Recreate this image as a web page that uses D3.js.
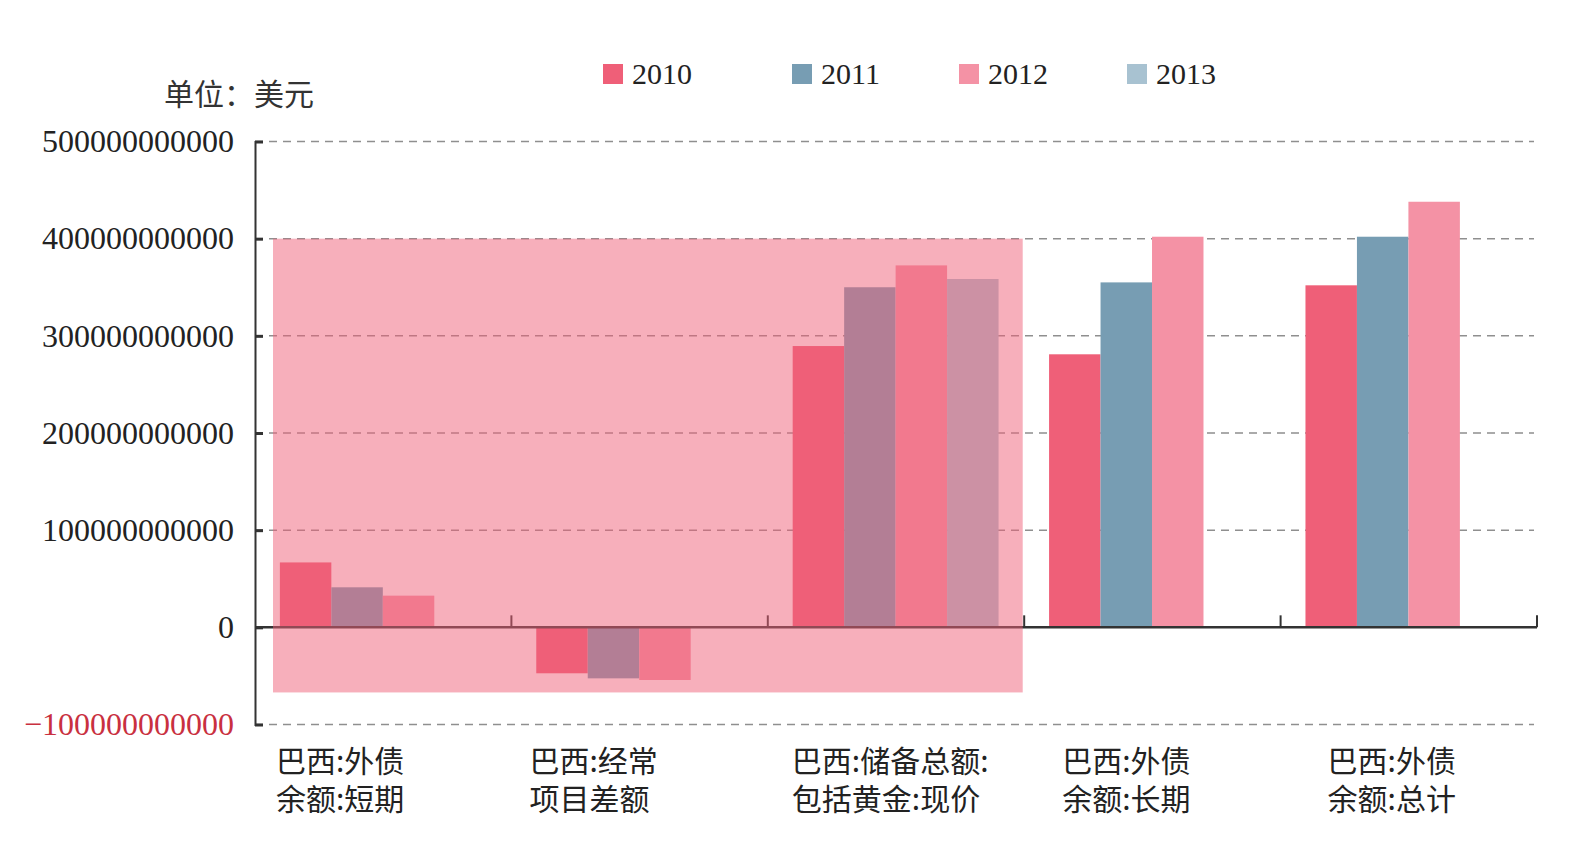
<!DOCTYPE html>
<html lang="zh">
<head>
  <meta charset="UTF-8">
  <title>巴西外债与储备</title>
  <script src="https://cdn.jsdelivr.net/npm/d3@7"></script>
  <style>
    body { margin: 0; background: #fff; }
    svg { display: block; }
  </style>
</head>
<body>
  <svg id="chart" width="1586" height="847"></svg>

  <script>
    // data (US$)
    const categories = [
      ['巴西:外债', '余额:短期'],
      ['巴西:经常', '项目差额'],
      ['巴西:储备总额:', '包括黄金:现价'],
      ['巴西:外债', '余额:长期'],
      ['巴西:外债', '余额:总计']
    ];
    const years = ['2010', '2011', '2012', '2013'];
    const values2010 = [66.8e9, -47.3e9, 289.5e9, 281e9, 352e9];
    const values2011 = [41.2e9, -52.5e9, 350e9, 355e9, 402e9];
    const values2012 = [32.6e9, -54.2e9, 372.5e9, 402e9, 438e9];
    const values2013 = [null, null, 358.5e9, null, null];
    const yTicks = [-100e9, 0, 100e9, 200e9, 300e9, 400e9, 500e9];
    const colors = ['#ef5f78', '#779db3', '#f492a5', '#a8c2d1'];
    // highlighted block: first three categories, 400e9 down to about -67e9
    const highlightCats = [0, 2];
    const highlightRange = [400e9, -67e9];

    const series = [values2010, values2011, values2012, values2013];

    const svg = d3.select('#chart');
    const plotLeft = 255, plotRight = 1537, plotTop = 141.5, plotBottom = 724.5;

    // scales
    const x0 = d3.scaleBand()
      .domain(d3.range(categories.length))
      .range([plotLeft, plotRight])
      .padding(0);
    const bw = x0.bandwidth();
    const x1 = d3.scaleBand()
      .domain(d3.range(years.length))
      .range([bw * 0.097, bw * 0.9])
      .padding(0);
    const y = d3.scaleLinear()
      .domain([-100e9, 500e9])
      .range([plotBottom, plotTop]);

    // dashed grid
    svg.append('g')
      .selectAll('line')
      .data(yTicks.filter(d => d !== 0))
      .join('line')
      .attr('x1', plotLeft)
      .attr('x2', plotRight - 3)
      .attr('y1', d => y(d))
      .attr('y2', d => y(d))
      .attr('stroke', '#8f8f8f')
      .attr('stroke-width', 1.5)
      .attr('stroke-dasharray', '8,6');

    // bars
    const groups = svg.append('g')
      .selectAll('g')
      .data(categories)
      .join('g')
      .attr('transform', (d, i) => `translate(${x0(i)},0)`);

    groups.selectAll('rect')
      .data((d, i) => series.map((s, j) => ({ j: j, v: s[i] })).filter(d => d.v !== null))
      .join('rect')
      .attr('x', d => x1(d.j))
      .attr('width', x1.bandwidth())
      .attr('y', d => y(Math.max(0, d.v)))
      .attr('height', d => Math.abs(y(d.v) - y(0)))
      .attr('fill', d => colors[d.j]);

    // y axis
    const yAxis = d3.axisLeft(y)
      .tickValues(yTicks)
      .tickSize(-8)
      .tickPadding(21)
      .tickFormat(d => d < 0 ? '\u2212' + Math.abs(d) : String(d));
    const gy = svg.append('g')
      .attr('transform', `translate(${plotLeft},0)`)
      .call(yAxis);
    gy.select('.domain').attr('stroke', '#333').attr('stroke-width', 2);
    gy.selectAll('.tick line').attr('stroke', '#333').attr('stroke-width', 3);
    gy.selectAll('.tick text')
      .attr('font-family', '"Liberation Serif", "DejaVu Serif", serif')
      .attr('font-size', 32)
      .attr('fill', d => d < 0 ? '#c9303f' : '#222');

    // x axis along zero, with upward ticks between categories
    svg.append('line')
      .attr('x1', plotLeft)
      .attr('x2', plotRight)
      .attr('y1', y(0))
      .attr('y2', y(0))
      .attr('stroke', '#333')
      .attr('stroke-width', 2.5);
    svg.append('g')
      .selectAll('line')
      .data(d3.range(1, categories.length + 1))
      .join('line')
      .attr('x1', i => i < categories.length ? x0(i) : plotRight)
      .attr('x2', i => i < categories.length ? x0(i) : plotRight)
      .attr('y1', y(0))
      .attr('y2', y(0) - 12)
      .attr('stroke', '#333')
      .attr('stroke-width', 2);

    // translucent highlight over the first three categories
    const hx = x0(highlightCats[0]) + 18;
    svg.append('rect')
      .attr('x', hx)
      .attr('width', x0(highlightCats[1]) + bw - 1.5 - hx)
      .attr('y', y(highlightRange[0]))
      .attr('height', y(highlightRange[1]) - y(highlightRange[0]))
      .attr('fill', '#ef5f78')
      .attr('opacity', 0.5);

    // category labels
    const labelDx = [21, 18, 24, 38, 47];
    const labels = svg.append('g')
      .selectAll('text')
      .data(categories)
      .join('text')
      .attr('font-family', '"Noto Sans CJK SC", sans-serif')
      .attr('font-size', 30)
      .attr('fill', '#222');
    labels.selectAll('tspan')
      .data((d, i) => d.map(t => ({ t: t, i: i })))
      .join('tspan')
      .attr('x', d => x0(d.i) + labelDx[d.i])
      .attr('y', (d, k) => 772 + k * 38)
      .text(d => d.t);

    // unit
    svg.append('text')
      .attr('x', 164)
      .attr('y', 105)
      .attr('font-family', '"Noto Sans CJK SC", sans-serif')
      .attr('font-size', 30)
      .attr('fill', '#333')
      .text('单位：美元');

    // legend
    const legendPos = [603, 792, 959, 1127];
    const legend = svg.append('g')
      .selectAll('g')
      .data(years)
      .join('g')
      .attr('transform', (d, i) => `translate(${legendPos[i]},64)`);
    legend.append('rect')
      .attr('width', 20)
      .attr('height', 20)
      .attr('fill', (d, i) => colors[i]);
    legend.append('text')
      .attr('x', 29)
      .attr('y', 20)
      .attr('font-family', '"Liberation Serif", "DejaVu Serif", serif')
      .attr('font-size', 30)
      .attr('fill', '#222')
      .text(d => d);
  </script>
</body>
</html>
